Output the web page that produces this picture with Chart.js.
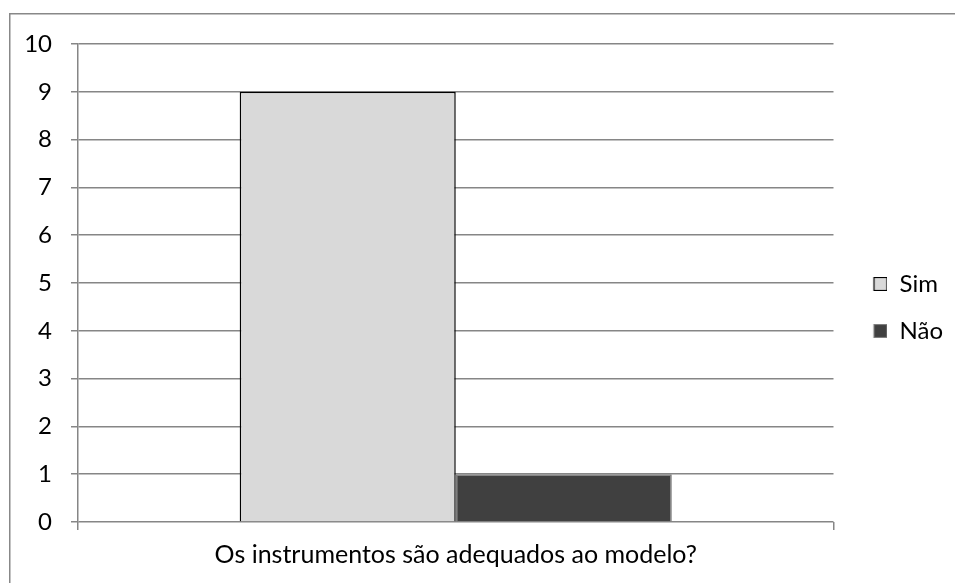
<!DOCTYPE html>
<html>
<head>
<meta charset="utf-8">
<script src="https://cdn.jsdelivr.net/npm/chart.js@4/dist/chart.umd.min.js"></script>
<style>
  html, body { margin: 0; padding: 0; background: #fff; }
  #wrap { width: 955px; height: 583px; position: relative; }
</style>
</head>
<body>
<div id="wrap"><canvas id="c" width="955" height="583"></canvas></div>
<script>
const categories = ['Os instrumentos são adequados ao modelo?'];
const seriesNames = ['Sim', 'Não'];
const simValues = [9];
const naoValues = [1];
const yTicks = [0, 1, 2, 3, 4, 5, 6, 7, 8, 9, 10];

const FONT = 'Lato, "Open Sans", sans-serif';
const GRID = '#868686';
const SIM_FILL = '#d9d9d9', SIM_LINE = '#000000';
const NAO_FILL = '#404040', NAO_LINE = '#7f7f7f';

// Legend marker: a small square sitting at the right end of a wider slot
const MARK_SLOT = 31;
function makeMark(fill, stroke) {
  const cv = document.createElement('canvas');
  cv.width = MARK_SLOT;
  cv.height = 14;
  const g = cv.getContext('2d');
  g.fillStyle = fill;
  g.strokeStyle = stroke;
  g.lineWidth = 1.2;
  g.fillRect(MARK_SLOT - 13.5, 0.5, 13, 13);
  g.strokeRect(MARK_SLOT - 13.5, 0.5, 13, 13);
  return cv;
}
const legendMarks = [makeMark(SIM_FILL, SIM_LINE), makeMark(NAO_FILL, NAO_LINE)];

// Outer frame: top and left edges only
const framePlugin = {
  id: 'frame',
  afterDraw(chart) {
    const ctx = chart.ctx;
    ctx.save();
    ctx.strokeStyle = '#888888';
    ctx.lineWidth = 1.5;
    ctx.beginPath();
    ctx.moveTo(9.75, 583);
    ctx.lineTo(9.75, 13.75);
    ctx.lineTo(955, 13.75);
    ctx.stroke();
    ctx.restore();
  }
};

new Chart(document.getElementById('c'), {
  type: 'bar',
  data: {
    labels: categories,
    datasets: [
      {
        label: seriesNames[0],
        data: simValues,
        backgroundColor: SIM_FILL,
        borderColor: SIM_LINE,
        borderWidth: 1.5,
        categoryPercentage: 0.572,
        barPercentage: 1.0
      },
      {
        label: seriesNames[1],
        data: naoValues,
        backgroundColor: NAO_FILL,
        borderColor: NAO_LINE,
        borderWidth: 1.5,
        categoryPercentage: 0.572,
        barPercentage: 1.0
      }
    ]
  },
  options: {
    responsive: false,
    animation: false,
    layout: { padding: { left: 10, top: 44, right: 2, bottom: 12 } },
    plugins: {
      tooltip: { enabled: false },
      legend: {
        position: 'right',
        align: 'center',
        labels: {
          usePointStyle: true,
          pointStyleWidth: MARK_SLOT,
          boxHeight: 13,
          padding: 23,
          color: '#000',
          font: { family: FONT, size: 24 },
          generateLabels(chart) {
            const items = Chart.defaults.plugins.legend.labels.generateLabels(chart);
            items.forEach((it, i) => { it.pointStyle = legendMarks[i]; });
            return items;
          }
        }
      }
    },
    scales: {
      x: {
        offset: true,
        grid: {
          offset: true,
          drawOnChartArea: false,
          drawTicks: true,
          tickLength: 8,
          color: GRID,
          lineWidth: 1.5
        },
        border: { display: false },
        ticks: {
          color: '#000',
          padding: 10,
          font: { family: FONT, size: 25 }
        },
        afterFit(scale) { scale.height = 49; }
      },
      y: {
        min: 0,
        max: 10,
        afterBuildTicks(scale) { scale.ticks = yTicks.map(v => ({ value: v })); },
        grid: {
          color: GRID,
          lineWidth: 1.5,
          tickLength: 7
        },
        border: { display: true, color: GRID, width: 1.5 },
        ticks: {
          color: '#000',
          padding: 19,
          font: { family: FONT, size: 24 }
        },
        afterFit(scale) { scale.width = 68; }
      }
    }
  },
  plugins: [framePlugin]
});
</script>
</body>
</html>
